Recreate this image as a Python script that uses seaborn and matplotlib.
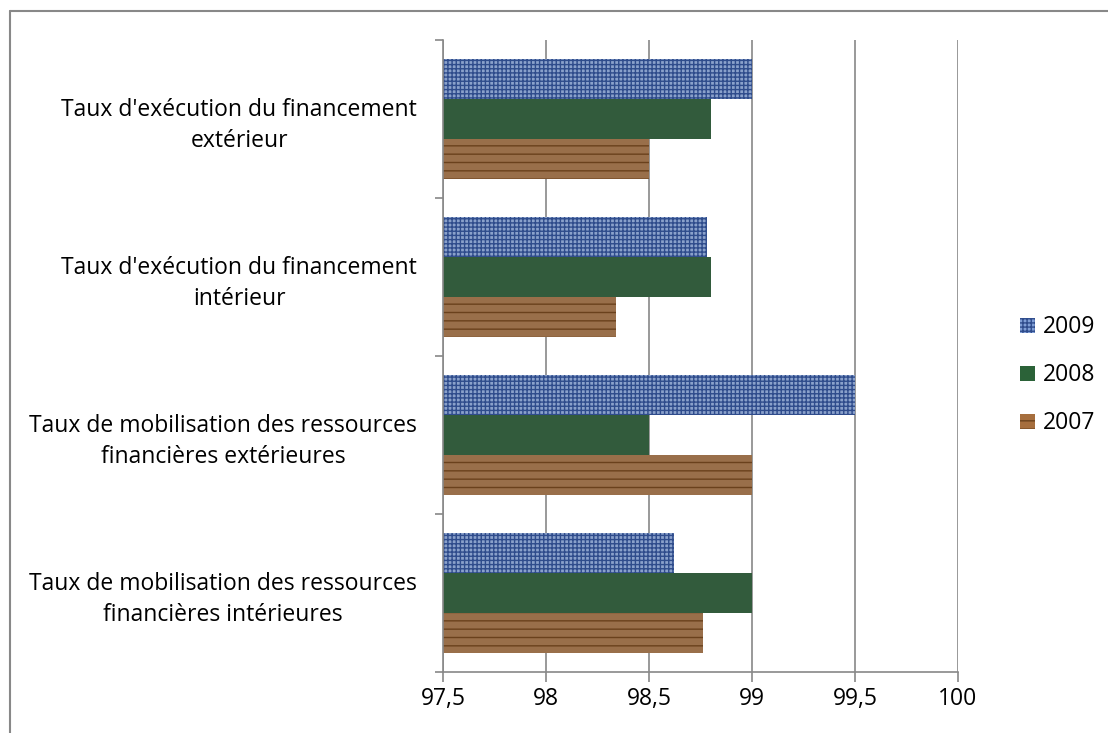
import pandas as pd
import seaborn as sns
import matplotlib.pyplot as plt
from matplotlib.patches import Rectangle
from matplotlib.lines import Line2D

categories = [
    "Taux d'exécution du financement\nextérieur",
    "Taux d'exécution du financement\nintérieur",
    "Taux de mobilisation des ressources\nfinancières extérieures",
    "Taux de mobilisation des ressources\nfinancières intérieures",
]
years = ["2009", "2008", "2007"]
v2009 = [99.0, 98.78, 99.5, 98.62]
v2008 = [98.8, 98.8, 98.5, 99.0]
v2007 = [98.5, 98.34, 99.0, 98.76]
xticks = [97.5, 98, 98.5, 99, 99.5, 100]
xtick_labels = ["97,5", "98", "98,5", "99", "99,5", "100"]

rows = []
for year, vals in zip(years, [v2009, v2008, v2007]):
    for cat, v in zip(categories, vals):
        rows.append({"cat": cat, "year": year, "value": v})
df = pd.DataFrame(rows)

sns.set_style("white")
plt.rcParams['font.family'] = ['Open Sans', 'DejaVu Sans']
plt.rcParams['hatch.linewidth'] = 1.0
plt.rcParams['text.color'] = 'black'
plt.rcParams['xtick.labelcolor'] = 'black'
plt.rcParams['ytick.labelcolor'] = 'black'

fills = {"2009": "#7f9ed6", "2008": "#2b6238", "2007": "#a66e3d"}
hatch_col = {"2009": "#2f4c8c", "2008": "#3f7d4e", "2007": "#6a411c"}
hatches = {"2009": "++++", "2008": "", "2007": "--"}
fs = 16.5

fig = plt.figure(figsize=(11.08, 7.33), dpi=100)
ax = fig.add_axes([0.4, 0.0832, 0.4646, 0.8622])

sns.barplot(data=df, y="cat", x="value", hue="year", order=categories,
            hue_order=years, orient="h", width=0.76, palette=fills,
            ax=ax, legend=False)

# textures: approximate with hatches
for i, year in enumerate(years):
    for bar in ax.containers[i]:
        bar.set_hatch(hatches[year])
        bar.set_edgecolor(hatch_col[year])
        bar.set_linewidth(0)

ax.set_xlim(97.5, 100)
ax.set_ylim(3.5, -0.5)
ax.set_xticks(xticks)
ax.set_xticklabels(xtick_labels, fontsize=fs, color="black")
ax.set_yticks([-0.5, 0.5, 1.5, 2.5, 3.5], minor=False)
ax.set_yticklabels([])
ax.set_yticks([0, 1, 2, 3], minor=True)
ax.set_yticklabels(categories, minor=True, fontsize=fs, color="black",
                   multialignment="center", linespacing=1.4)
ax.tick_params(axis="y", which="major", left=True, length=6, color="#888888", width=1.2)
ax.tick_params(axis="y", which="minor", left=False, length=0, pad=18.7)
ax.tick_params(axis="x", bottom=True, length=7, color="#888888", width=1.2, pad=4)
ax.set_xlabel("")
ax.set_ylabel("")

ax.grid(axis="x", color="#999999", linewidth=1.4)
ax.set_axisbelow(True)
for side in ["top", "right"]:
    ax.spines[side].set_visible(False)
for side in ["left", "bottom"]:
    ax.spines[side].set_color("#888888")
    ax.spines[side].set_linewidth(1.2)

# legend
handles = [Rectangle((0, 0), 1, 1, facecolor=fills[y], edgecolor=hatch_col[y],
                     hatch=hatches[y], linewidth=0) for y in years]
fig.legend(handles, years, loc="center left", bbox_to_anchor=(0.902, 0.488),
           frameon=False, fontsize=fs, handlelength=0.65, handleheight=0.65,
           labelspacing=1.05, handletextpad=0.35, labelcolor="black")

# outer chart frame (top and left edges visible)
fx, fy = 10 / 1108, 1 - 11 / 733
fig.add_artist(Line2D([fx, 1], [fy, fy], transform=fig.transFigure,
                      color="#888888", linewidth=1.5))
fig.add_artist(Line2D([fx, fx], [0, fy], transform=fig.transFigure,
                      color="#888888", linewidth=1.5))

fig.savefig("out.png", dpi=100)
